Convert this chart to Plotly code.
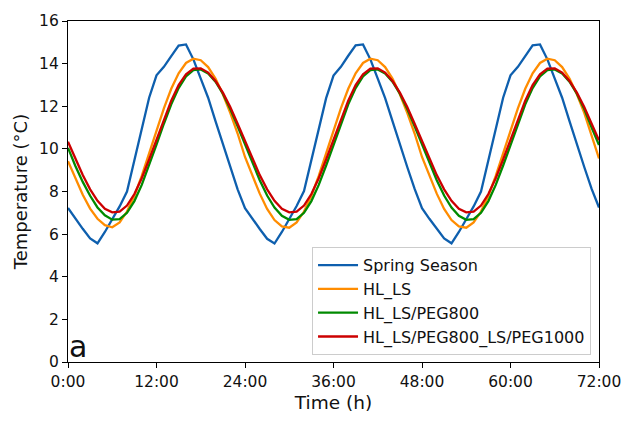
import plotly.graph_objects as go

hours = list(range(0, 73))
tick_vals = [0, 12, 24, 36, 48, 60, 72]
tick_text = ["0:00", "12:00", "24:00", "36:00", "48:00", "60:00", "72:00"]
y_ticks = [0, 2, 4, 6, 8, 10, 12, 14, 16]

spring_season = [
    7.23, 6.72, 6.25, 5.80, 5.57, 6.10, 6.70, 7.30, 8.00, 9.45, 10.95, 12.40,
    13.45, 13.85, 14.35, 14.85, 14.90, 14.20, 13.30, 12.40, 11.30, 10.20, 9.15, 8.10,
    7.22, 6.70, 6.24, 5.78, 5.56, 6.10, 6.70, 7.32, 8.02, 9.45, 10.95, 12.38,
    13.44, 13.85, 14.37, 14.86, 14.90, 14.20, 13.30, 12.38, 11.30, 10.20, 9.15, 8.12,
    7.22, 6.72, 6.25, 5.80, 5.57, 6.10, 6.70, 7.30, 8.00, 9.45, 10.95, 12.40,
    13.45, 13.85, 14.35, 14.86, 14.90, 14.20, 13.30, 12.40, 11.30, 10.20, 9.15, 8.12,
    7.25,
]

hl_ls = [
    9.42, 8.60, 7.85, 7.20, 6.72, 6.42, 6.32, 6.55, 7.06, 7.80, 8.73, 9.79,
    10.87, 11.90, 12.82, 13.55, 14.03, 14.23, 14.16, 13.84, 13.30, 12.56, 11.69, 10.72,
    9.62, 8.76, 7.90, 7.18, 6.66, 6.36, 6.30, 6.55, 7.06, 7.80, 8.73, 9.79,
    10.87, 11.90, 12.82, 13.55, 14.03, 14.23, 14.16, 13.84, 13.30, 12.56, 11.69, 10.72,
    9.62, 8.76, 7.90, 7.18, 6.66, 6.36, 6.30, 6.55, 7.06, 7.80, 8.73, 9.79,
    10.87, 11.90, 12.82, 13.55, 14.03, 14.23, 14.16, 13.84, 13.30, 12.56, 11.69, 10.60,
    9.55,
]

hl_ls_peg800 = [
    10.05, 9.20, 8.45, 7.80, 7.25, 6.88, 6.68, 6.70, 7.00, 7.55, 8.31, 9.22,
    10.20, 11.18, 12.09, 12.85, 13.40, 13.70, 13.73, 13.54, 13.15, 12.59, 11.87, 11.06,
    10.20, 9.34, 8.53, 7.81, 7.25, 6.86, 6.67, 6.70, 7.00, 7.55, 8.31, 9.22,
    10.20, 11.18, 12.09, 12.85, 13.40, 13.70, 13.73, 13.54, 13.15, 12.59, 11.87, 11.06,
    10.20, 9.34, 8.53, 7.81, 7.25, 6.86, 6.67, 6.70, 7.00, 7.55, 8.31, 9.22,
    10.20, 11.18, 12.09, 12.85, 13.40, 13.70, 13.73, 13.54, 13.15, 12.59, 11.87, 11.00,
    10.18,
]

hl_ls_peg800_ls_peg1000 = [
    10.33, 9.54, 8.77, 8.10, 7.56, 7.19, 7.02, 7.05, 7.34, 7.88, 8.62, 9.50,
    10.45, 11.40, 12.26, 12.99, 13.50, 13.77, 13.78, 13.58, 13.19, 12.64, 11.96, 11.18,
    10.36, 9.54, 8.77, 8.10, 7.56, 7.19, 7.02, 7.05, 7.34, 7.88, 8.62, 9.50,
    10.45, 11.40, 12.26, 12.99, 13.50, 13.77, 13.78, 13.58, 13.19, 12.64, 11.96, 11.18,
    10.36, 9.54, 8.77, 8.10, 7.56, 7.19, 7.02, 7.05, 7.34, 7.88, 8.62, 9.50,
    10.45, 11.40, 12.26, 12.99, 13.50, 13.77, 13.78, 13.58, 13.19, 12.64, 11.96, 11.18,
    10.40,
]

series = [
    ("Spring Season", spring_season, "#0e5fae"),
    ("HL_LS", hl_ls, "#ff8c00"),
    ("HL_LS/PEG800", hl_ls_peg800, "#008a00"),
    ("HL_LS/PEG800_LS/PEG1000", hl_ls_peg800_ls_peg1000, "#cc0000"),
]

FONT = "DejaVu Sans"

fig = go.Figure()
for i, (name, vals, color) in enumerate(series):
    fig.add_trace(go.Scatter(
        x=hours, y=vals, mode="lines", name=name,
        line=dict(color=color, width=2.3),
    ))

fig.update_layout(
    width=633, height=422,
    margin=dict(l=68, r=26, t=17, b=53),
    paper_bgcolor="white", plot_bgcolor="white",
    font=dict(family=FONT, size=15.5, color="#111111"),
    showlegend=True,
    legend=dict(
        x=0.985, y=0.02, xanchor="right", yanchor="bottom",
        bgcolor="rgba(255,255,255,0.9)", bordercolor="#cccccc", borderwidth=1,
        font=dict(family=FONT, size=16, color="#111111"),
        itemwidth=40,
    ),
    annotations=[dict(
        text="a", x=0.0, y=0.0, xref="paper", yref="paper",
        xanchor="left", yanchor="bottom", showarrow=False,
        xshift=-1, yshift=-4,
        font=dict(family=FONT, size=30, color="#111111"),
    )],
)

fig.update_xaxes(
    range=[0, 72], tickmode="array", tickvals=tick_vals, ticktext=tick_text,
    showline=True, linecolor="black", linewidth=1.1, mirror=True,
    ticks="outside", ticklen=5, tickwidth=1.1, tickcolor="black",
    showgrid=False, zeroline=False,
    tickfont=dict(family=FONT, size=15.5),
    title=dict(text="Time (h)", font=dict(family=FONT, size=18.5), standoff=6),
)
fig.update_yaxes(
    range=[0, 16], tickmode="array", tickvals=y_ticks,
    showline=True, linecolor="black", linewidth=1.1, mirror=True,
    ticks="outside", ticklen=5, tickwidth=1.1, tickcolor="black",
    showgrid=False, zeroline=False,
    tickfont=dict(family=FONT, size=15.5),
    title=dict(text="Temperature (°C)", font=dict(family=FONT, size=18), standoff=6),
)

fig.write_html(
    "out.html",
    config={"displayModeBar": False, "staticPlot": False},
    post_script="document.body.style.margin='0';",
)
